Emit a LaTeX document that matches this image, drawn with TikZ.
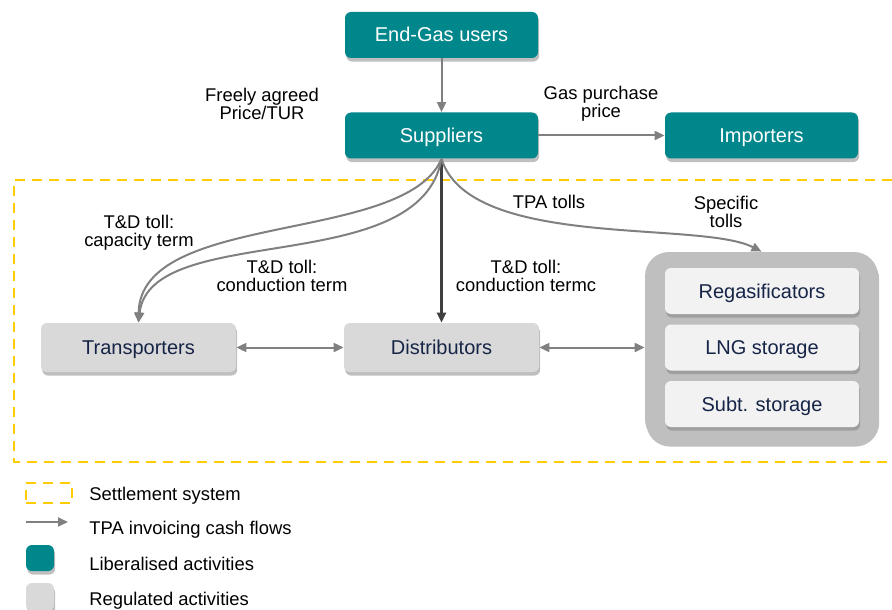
\documentclass[tikz,border=0pt]{standalone}
\usepackage{fontspec}
\setmainfont{Liberation Sans}
\usetikzlibrary{arrows.meta}
\usetikzlibrary{shadows}

\definecolor{gasteal}{RGB}{0,135,140}
\definecolor{regfill}{RGB}{217,217,217}
\definecolor{regtext}{RGB}{22,36,71}
\definecolor{storfill}{RGB}{191,191,191}
\definecolor{facfill}{RGB}{242,242,242}
\definecolor{flowgray}{RGB}{128,128,128}
\definecolor{settleyellow}{RGB}{255,204,0}

\begin{document}
\begin{tikzpicture} [
        x=0.5pt, y=-0.5pt,
        >={Triangle[length=5pt,width=4.5pt]},
        boxshadow/.style={drop shadow={shadow xshift=0.6pt, shadow yshift=-1.8pt, fill=black!50, opacity=0.5}},
        boxtext/.style={text height=8.3pt, text depth=1.3pt, font=\fontsize{10}{12}\selectfont},
        liberal/.style={rectangle, rounded corners=3pt, fill=gasteal, text=white, minimum width=96.5pt, minimum height=23pt, boxshadow, boxtext},
        regulated/.style={rectangle, rounded corners=3pt, fill=regfill, text=regtext, minimum width=97.5pt, minimum height=24.5pt, boxshadow, boxtext},
        storagebox/.style={rectangle, rounded corners=12pt, fill=storfill, minimum width=116.5pt, minimum height=95.5pt, boxshadow},
        facility/.style={rectangle, rounded corners=3pt, fill=facfill, text=regtext, minimum width=97pt, minimum height=23pt, boxshadow, boxtext},
        note/.style={align=center, inner sep=0pt, font=\fontsize{9.2}{9}\selectfont},
        legendtext/.style={anchor=west, inner sep=0pt, font=\fontsize{9.2}{11}\selectfont},
        flow/.style={draw=flowgray, line width=1pt, ->},
        mainflow/.style={draw=black!75, line width=1.5pt, ->},
        settlement/.style={draw=settleyellow, line width=1.25pt, dash pattern=on 5pt off 3.5pt} ]
    \clip (0,0) rectangle (892,609);

    % liberalised activities
    \node[liberal] (users) at (441.5,35) {End-Gas users};
    \node[liberal] (suppliers) at (441.5,135.5) {Suppliers};
    \node[liberal] (importers) at (761.5,135.5) {Importers};

    % settlement system
    \draw[settlement] (892,180) -| (14,462) -- (892,462);

    % regulated activities
    \node[regulated] (transporters) at (138.5,347.5) {Transporters};
    \node[regulated] (distributors) at (441.5,347.5) {Distributors};
    \node[storagebox] (storage) at (761.5,347.5) {};
    \node[facility] (regas) at (762,291) {Regasificators};
    \node[facility] (lng) at (762,347.5) {LNG storage};
    \node[facility] (subt) at (762,404) {Subt. storage};

    % cash flows
    \draw[flow] (users) -- (suppliers);
    \node[note] (freely) at (262,104) {Freely agreed\\Price/TUR};
    \draw[flow] (suppliers) -- (importers);
    \node[note] (purchase) at (601,104) {Gas purchase\\price};
    \draw[mainflow] (suppliers) -- (distributors);
    \draw[flow] (suppliers.south) .. controls (405,245) and (140,210) .. (transporters.north);
    \draw[flow] (suppliers.south) .. controls (420,280) and (150,220) .. (transporters.north);
    \draw[flow] (suppliers.south) .. controls (470,250) and (700,220) .. (storage.north);
    \draw[flow,<->] (transporters) -- (distributors);
    \draw[flow,<->] (distributors) -- (storage);
    \node[note] (capacity) at (139,233) {T\&D toll:\\capacity term};
    \node[note] (conduction) at (282,276) {T\&D toll:\\conduction term};
    \node[note] (conductionc) at (526,276) {T\&D toll:\\conduction termc};
    \node[note] (tpa) at (549,202) {TPA tolls};
    \node[note] (specific) at (726,212) {Specific\\tolls};

    % legend
    \node[settlement, rectangle, minimum width=23pt, minimum height=10pt] (keysettle) at (49,493) {};
    \node[legendtext] (txtsettle) at (89,496) {Settlement system};
    \coordinate (keyflowa) at (26,522);
    \coordinate (keyflowb) at (68,522);
    \draw[flow] (keyflowa) -- (keyflowb);
    \node[legendtext] (txtflow) at (89,530) {TPA invoicing cash flows};
    \node[rectangle, rounded corners=3pt, fill=gasteal, minimum width=14pt, minimum height=13pt, boxshadow] (keyliberal) at (40,558) {};
    \node[legendtext] (txtliberal) at (89,564) {Liberalised activities};
    \node[rectangle, rounded corners=3pt, fill=regfill, minimum width=14pt, minimum height=14pt, boxshadow] (keyregulated) at (40,597) {};
    \node[legendtext] (txtregulated) at (89,601) {Regulated activities};
\end{tikzpicture}
\end{document}
